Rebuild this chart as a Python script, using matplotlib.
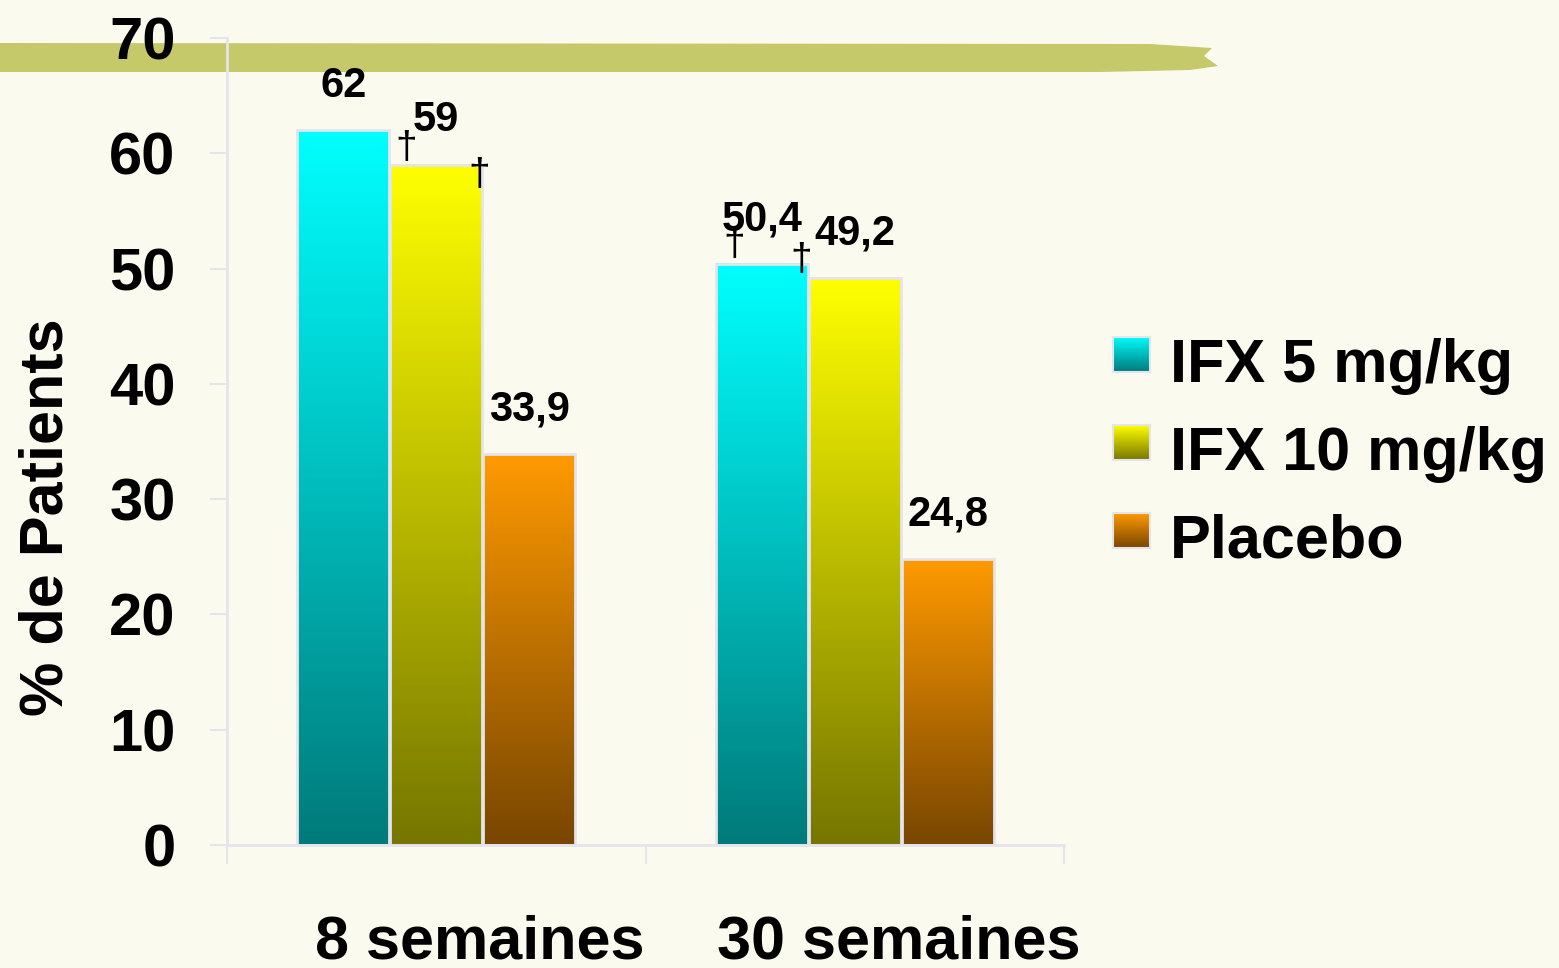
import matplotlib
matplotlib.use("Agg")
import matplotlib.pyplot as plt
import numpy as np
from matplotlib.patches import Polygon
from matplotlib.colors import to_rgb
import matplotlib.transforms as mtransforms

# ── data ────────────────────────────────────────────────────────────────
CATEGORIES = ["8 semaines", "30 semaines"]
SERIES = ["IFX 5 mg/kg", "IFX 10 mg/kg", "Placebo"]
VALUES = {
    "IFX 5 mg/kg": [62, 50.4],
    "IFX 10 mg/kg": [59, 49.2],
    "Placebo": [33.9, 24.8],
}
VALUE_LABELS = {
    "IFX 5 mg/kg": ["62", "50,4"],
    "IFX 10 mg/kg": ["59", "49,2"],
    "Placebo": ["33,9", "24,8"],
}
Y_TICKS = [0, 10, 20, 30, 40, 50, 60, 70]
# dagger marks: (category index, series index, position across bar, offset in pt)
DAGGERS = [(0, 1, 0.17, 12), (0, 1, 0.97, -7), (1, 0, 0.20, 14), (1, 0, 0.93, 3)]

# gradient (top colour, bottom colour) per series
GRADIENTS = {
    "IFX 5 mg/kg": ("#00FFFF", "#007A7A"),
    "IFX 10 mg/kg": ("#FFFF00", "#767600"),
    "Placebo": ("#FF9A00", "#784600"),
}
BG = "#FBFAEE"
EDGE = "#E4E4EC"

plt.rcParams.update({
    "font.family": ["Liberation Sans", "DejaVu Sans"],
    "font.weight": "bold",
})

W, H = 1559, 968
fig = plt.figure(figsize=(W / 100, H / 100), dpi=100, facecolor=BG)


def fx(px):
    return px / W


def fy(py):
    return 1 - py / H


def gradient(top, bottom, n=256):
    t = np.linspace(0, 1, n)[:, None]
    a, b = np.array(to_rgb(top)), np.array(to_rgb(bottom))
    return (a * (1 - t) + b * t)[:, None, :]


# olive brush stroke across the top (behind everything)
stroke = [(0, 43), (1150, 44), (1212, 48), (1204, 56), (1218, 66), (1190, 70),
          (1100, 72), (0, 72)]
fig.patches.append(Polygon([(fx(x), fy(y)) for x, y in stroke], closed=True,
                           transform=fig.transFigure, facecolor="#C6C96A",
                           edgecolor="none", zorder=-5))

ax = fig.add_axes([fx(227), fy(845), fx(1064) - fx(227), fy(38) - fy(845)])
ax.set_facecolor("none")

width = 0.22
offsets = [-0.222, 0.0, 0.222]
x = np.arange(len(CATEGORIES))

for s, name in enumerate(SERIES):
    vals = VALUES[name]
    img = gradient(*GRADIENTS[name])
    for i, v in enumerate(vals):
        xc = x[i] + offsets[s]
        ax.imshow(img, extent=(xc - width / 2, xc + width / 2, 0, v),
                  origin="upper", aspect="auto", zorder=2)
        ax.annotate(VALUE_LABELS[name][i], (xc, v), xytext=(0, 32),
                    textcoords="offset points", ha="center", va="center",
                    fontsize=30, fontweight="bold", zorder=5)
    ax.bar(x + offsets[s], vals, width, fill=False, edgecolor=EDGE,
           linewidth=2, zorder=3)

for ci, si, frac, dy in DAGGERS:
    name = SERIES[si]
    xc = x[ci] + offsets[si] - width / 2 + frac * width
    ax.annotate("\u2020", (xc, VALUES[name][ci]), xytext=(0, dy),
                textcoords="offset points", ha="center", va="center",
                fontsize=28, fontweight="normal", zorder=6)

ax.set_aspect("auto")
ax.set_xlim(-0.5, 1.5)
ax.set_ylim(0, 70)

# axes styling
for side in ["top", "right"]:
    ax.spines[side].set_visible(False)
for side in ["left", "bottom"]:
    ax.spines[side].set_color(EDGE)
    ax.spines[side].set_linewidth(2)
ax.set_yticks(Y_TICKS)
ax.set_yticklabels([str(t) for t in Y_TICKS], fontsize=43, fontweight="bold")
ax.tick_params(axis="y", length=12, width=1.5, color=EDGE, pad=25)
ax.set_xticks([-0.5, 0.5, 1.5])
ax.set_xticklabels([])
ax.tick_params(axis="x", length=14, width=1.5, color=EDGE)

blend = mtransforms.blended_transform_factory(ax.transData, ax.transAxes)
for i, cat in enumerate(CATEGORIES):
    ax.text(x[i] + 0.105, -0.141, cat, transform=blend, ha="center",
            va="baseline", fontsize=44, fontweight="bold")

fig.text(fx(47), fy(517), "% de Patients", rotation=90, ha="center",
         va="center", fontsize=44, fontweight="bold")

# legend with gradient swatches
rows = [382, 470, 558]
for name, base in zip(SERIES, rows):
    sw = fig.add_axes([fx(1113), fy(base - 10), fx(37), 35 / H])
    sw.imshow(gradient(*GRADIENTS[name]), aspect="auto",
              extent=(0, 1, 0, 1), origin="upper")
    sw.set_xticks([])
    sw.set_yticks([])
    for sp in sw.spines.values():
        sp.set_color(EDGE)
        sp.set_linewidth(1.5)
    fig.text(fx(1170), fy(base), name, ha="left", va="baseline",
             fontsize=44, fontweight="bold")

fig.savefig("out.png", dpi=100, facecolor=BG)
